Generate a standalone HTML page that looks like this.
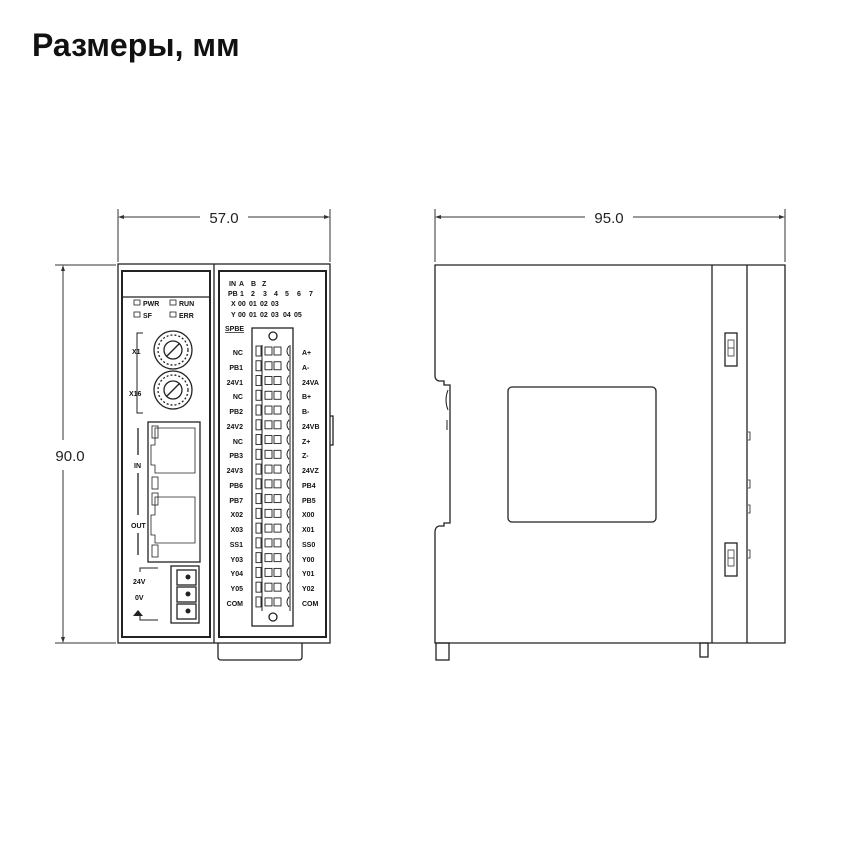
<!DOCTYPE html>
<html><head><meta charset="utf-8"><style>
body{margin:0;background:#fff;width:860px;height:860px;overflow:hidden}
svg{display:block}
.t{font-family:"Liberation Sans",sans-serif;font-weight:bold;font-size:7px;fill:#111}
</style></head><body>
<svg width="860" height="860" viewBox="0 0 860 860" xmlns="http://www.w3.org/2000/svg">
<text x="32" y="56" font-family="'Liberation Sans','DejaVu Sans',sans-serif" font-weight="bold" font-size="32" fill="#111">Размеры, мм</text>
<g stroke="#333" stroke-width="1" fill="none">
<line x1="118" y1="209" x2="118" y2="262"/><line x1="330" y1="209" x2="330" y2="262"/>
<line x1="120" y1="217" x2="200" y2="217"/><line x1="248" y1="217" x2="328" y2="217"/>
<line x1="435" y1="209" x2="435" y2="262"/><line x1="785" y1="209" x2="785" y2="262"/>
<line x1="437" y1="217" x2="585" y2="217"/><line x1="633" y1="217" x2="783" y2="217"/>
<line x1="55" y1="265" x2="116" y2="265"/><line x1="55" y1="643" x2="116" y2="643"/>
<line x1="63" y1="267" x2="63" y2="440"/><line x1="63" y1="470" x2="63" y2="641"/>
</g>
<g fill="#333">
<path d="M118 217l6-2v4z"/><path d="M330 217l-6-2v4z"/>
<path d="M435 217l6-2v4z"/><path d="M785 217l-6-2v4z"/>
<path d="M63 265l-2 6h4z"/><path d="M63 643l-2-6h4z"/>
</g>
<g font-family="'Liberation Sans',sans-serif" font-size="15" fill="#222">
<text x="224" y="223" text-anchor="middle">57.0</text>
<text x="609" y="223" text-anchor="middle">95.0</text>
<text x="70" y="461" text-anchor="middle">90.0</text>
</g>
<!-- front view -->
<g stroke="#222" stroke-width="1.3" fill="none">
<rect x="118" y="264" width="212" height="379"/>
<line x1="214" y1="264" x2="214" y2="643"/>
<rect x="122" y="271" width="88" height="366" stroke-width="2"/>
<line x1="122" y1="297" x2="210" y2="297"/>
<rect x="219" y="271" width="107" height="366" stroke-width="2"/>
<path d="M330 416h3v29h-3"/>
<path d="M218 643v14q0 3 3 3h78q3 0 3-3v-14"/>
<rect x="134" y="300" width="6" height="5" stroke-width="0.8"/><rect x="170" y="300" width="6" height="5" stroke-width="0.8"/>
<rect x="134" y="312" width="6" height="5" stroke-width="0.8"/><rect x="170" y="312" width="6" height="5" stroke-width="0.8"/>
<path d="M143 333h-6v80h6" stroke-width="1"/>
<circle cx="173" cy="350" r="19"/><circle cx="173" cy="350" r="9"/>
<circle cx="173" cy="390" r="19"/><circle cx="173" cy="390" r="9"/>
<circle cx="173" cy="350" r="15" stroke-dasharray="2 2"/><circle cx="173" cy="390" r="15" stroke-dasharray="2 2"/>
<line x1="167" y1="356" x2="179" y2="344"/><line x1="167" y1="396" x2="179" y2="384"/>
<rect x="148" y="422" width="52" height="140"/>
<path d="M155 428h40v45h-40v-8h-4v-20h4z" stroke-width="0.8"/>
<path d="M155 497h40v46h-40v-8h-4v-20h4z" stroke-width="0.8"/>
<rect x="152" y="426" width="6" height="12" stroke-width="0.8"/>
<rect x="152" y="477" width="6" height="12" stroke-width="0.8"/>
<rect x="152" y="493" width="6" height="12" stroke-width="0.8"/>
<rect x="152" y="545" width="6" height="12" stroke-width="0.8"/>
<line x1="138" y1="428" x2="138" y2="455"/><line x1="138" y1="473" x2="138" y2="515"/><line x1="138" y1="533" x2="138" y2="555"/>
<path d="M140 572v-4h18M140 616v4h18" stroke-width="1"/>
<rect x="171" y="566" width="28" height="57"/>
<rect x="177" y="570" width="19" height="15"/><rect x="177" y="587" width="19" height="15"/><rect x="177" y="604" width="19" height="15"/>
<rect x="252" y="328" width="41" height="298"/>
<circle cx="273" cy="336" r="4"/><circle cx="273" cy="617" r="4"/>
</g>
<g fill="#222"><circle cx="188" cy="577" r="2.5"/><circle cx="188" cy="594" r="2.5"/><circle cx="188" cy="611" r="2.5"/></g>
<g class="t">
<text x="143" y="306">PWR</text><text x="179" y="306">RUN</text>
<text x="143" y="318">SF</text><text x="179" y="318">ERR</text>
<text x="132" y="354">X1</text><text x="129" y="396">X16</text>
<text x="134" y="468">IN</text><text x="131" y="528">OUT</text>
<text x="133" y="584">24V</text><text x="135" y="600">0V</text>
<text x="229" y="286">IN</text><text x="239" y="286">A</text><text x="251" y="286">B</text><text x="262" y="286">Z</text>
<text x="228" y="296">PB</text><text x="240" y="296">1</text><text x="251" y="296">2</text><text x="263" y="296">3</text><text x="274" y="296">4</text><text x="285" y="296">5</text><text x="297" y="296">6</text><text x="309" y="296">7</text>
<text x="231" y="306">X</text><text x="238" y="306">00</text><text x="249" y="306">01</text><text x="260" y="306">02</text><text x="271" y="306">03</text>
<text x="231" y="317">Y</text><text x="238" y="317">00</text><text x="249" y="317">01</text><text x="260" y="317">02</text><text x="271" y="317">03</text><text x="283" y="317">04</text><text x="294" y="317">05</text>
<text x="225" y="331" text-decoration="underline">SPBE</text>
</g>
<path d="M133 616l5-6 5 6z" fill="#222"/>
<g class="t" text-anchor="end">
<text x="243" y="355">NC</text><text x="243" y="370">PB1</text><text x="243" y="385">24V1</text><text x="243" y="399">NC</text><text x="243" y="414">PB2</text><text x="243" y="429">24V2</text><text x="243" y="444">NC</text><text x="243" y="458">PB3</text><text x="243" y="473">24V3</text><text x="243" y="488">PB6</text><text x="243" y="503">PB7</text><text x="243" y="517">X02</text><text x="243" y="532">X03</text><text x="243" y="547">SS1</text><text x="243" y="562">Y03</text><text x="243" y="576">Y04</text><text x="243" y="591">Y05</text><text x="243" y="606">COM</text>
</g>
<g class="t">
<text x="302" y="355">A+</text><text x="302" y="370">A-</text><text x="302" y="385">24VA</text><text x="302" y="399">B+</text><text x="302" y="414">B-</text><text x="302" y="429">24VB</text><text x="302" y="444">Z+</text><text x="302" y="458">Z-</text><text x="302" y="473">24VZ</text><text x="302" y="488">PB4</text><text x="302" y="503">PB5</text><text x="302" y="517">X00</text><text x="302" y="532">X01</text><text x="302" y="547">SS0</text><text x="302" y="562">Y00</text><text x="302" y="576">Y01</text><text x="302" y="591">Y02</text><text x="302" y="606">COM</text>
</g>
<g stroke="#222" stroke-width="1" fill="none">
<path d="M262 345v266"/><path d="M290 345v266"/>
</g>
<g fill="#fff" stroke="#222" stroke-width="0.9">
<g id="c">
<rect x="256" y="346" width="5" height="10"/><rect x="265" y="347" width="7" height="8"/><rect x="274" y="347" width="7" height="8"/><path d="M289 346q-4 5 0 10" fill="none"/>
</g>
<use href="#c" y="14.76"/><use href="#c" y="29.52"/><use href="#c" y="44.28"/><use href="#c" y="59.04"/><use href="#c" y="73.8"/><use href="#c" y="88.56"/><use href="#c" y="103.32"/><use href="#c" y="118.08"/><use href="#c" y="132.84"/><use href="#c" y="147.6"/><use href="#c" y="162.36"/><use href="#c" y="177.12"/><use href="#c" y="191.88"/><use href="#c" y="206.64"/><use href="#c" y="221.4"/><use href="#c" y="236.16"/><use href="#c" y="250.92"/>
</g>
<!-- side view -->
<g stroke="#222" stroke-width="1.3" fill="none">
<path d="M435 265H785V643H435V532q0-5 4-6h5v-3h6V385h-6v-4h-5q-4-1-4-5z"/>
<line x1="712" y1="265" x2="712" y2="643"/><line x1="747" y1="265" x2="747" y2="643"/>
<rect x="508" y="387" width="148" height="135" rx="4"/>
<rect x="725" y="333" width="12" height="33"/><rect x="725" y="543" width="12" height="33"/>
<path d="M728 340h6v8h-6zM728 348h6v8h-6zM728 550h6v8h-6zM728 558h6v8h-6z" stroke-width="0.7"/>
<rect x="436" y="643" width="13" height="17"/><rect x="700" y="643" width="8" height="14"/>
<path d="M448 390q-4 10 0 20M447 420v10" stroke-width="1"/>
<path d="M748 432h2v8h-2M748 480h2v8h-2M748 505h2v8h-2M748 550h2v8h-2" stroke-width="0.8"/>
</g>
</svg>
</body></html>
